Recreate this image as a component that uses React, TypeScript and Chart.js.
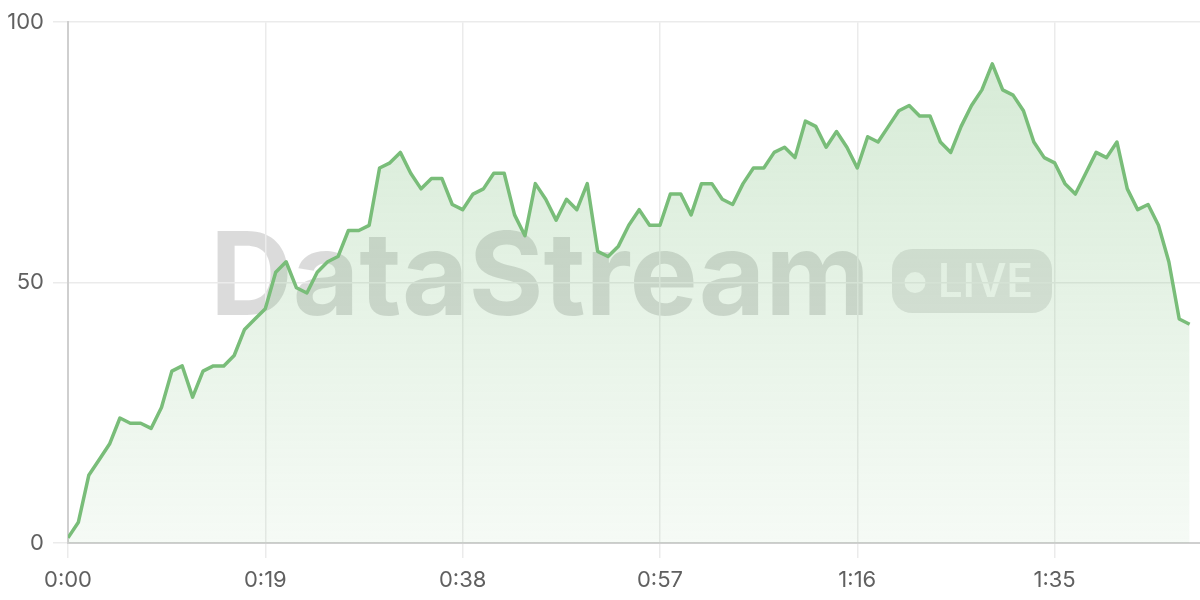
import React, { useEffect, useRef } from "react";
import { Chart, registerables } from "chart.js";

Chart.register(...registerables);

const VALUES = [
  1, 4, 13, 16, 19, 24, 23, 23, 22, 26,
  33, 34, 28, 33, 34, 34, 36, 41, 43, 45,
  52, 54, 49, 48, 52, 54, 55, 60, 60, 61,
  72, 73, 75, 71, 68, 70, 70, 65, 64, 67,
  68, 71, 71, 63, 59, 69, 66, 62, 66, 64,
  69, 56, 55, 57, 61, 64, 61, 61, 67, 67,
  63, 69, 69, 66, 65, 69, 72, 72, 75, 76,
  74, 81, 80, 76, 79, 76, 72, 78, 77, 80,
  83, 84, 82, 82, 77, 75, 80, 84, 87, 92,
  87, 86, 83, 77, 74, 73, 69, 67, 71, 75,
  74, 77, 68, 64, 65, 61, 54, 43, 42,
];
const SECONDS = VALUES.map((_, i) => i);
const X_TICKS = [0, 19, 38, 57, 76, 95];
const Y_TICKS = [0, 50, 100];
const X_MAX = 109;
const WATERMARK = "DataStream";
const BADGE = "LIVE";

const fmt = (s: number) => `${Math.floor(s / 60)}:${String(s % 60).padStart(2, "0")}`;

const watermarkPlugin = {
  id: "watermark",
  beforeDraw(chart: any) {
    const { ctx, chartArea } = chart;
    if (!chartArea) return;
    const cx = (chartArea.left + chartArea.right) / 2;
    const cy = (chartArea.top + chartArea.bottom) / 2;
    ctx.save();
    ctx.font = "bold 115px Inter";
    ctx.textBaseline = "alphabetic";
    ctx.textAlign = "left";
    const tw = ctx.measureText(WATERMARK).width;
    const targetW = 660;
    ctx.fillStyle = "rgba(0,0,0,0.14)";
    ctx.save();
    ctx.translate(cx - 424, cy + 32);
    ctx.scale(targetW / tw, 1);
    ctx.fillText(WATERMARK, 0, 0);
    ctx.restore();
    ctx.fillStyle = "rgba(0,0,0,0.1)";
    ctx.beginPath();
    ctx.roundRect(cx + 258, cy - 33.5, 160, 64, 20);
    ctx.fill();
    ctx.fillStyle = "rgba(255,255,255,0.85)";
    ctx.beginPath();
    ctx.arc(cx + 281, cy, 10.5, 0, Math.PI * 2);
    ctx.fill();
    ctx.font = "600 46px Inter";
    const lw = ctx.measureText(BADGE).width;
    ctx.save();
    ctx.translate(cx + 304, cy + 14.5);
    ctx.scale(95 / lw, 1);
    ctx.fillText(BADGE, 0, 0);
    ctx.restore();
    ctx.restore();
  },
};

export default function App() {
  const ref = useRef<HTMLCanvasElement | null>(null);
  useEffect(() => {
    document.body.style.margin = "0";
    const canvas = ref.current;
    if (!canvas) return;
    const tickFont = { family: "Inter", size: 22 };
    const chart = new Chart(canvas, {
      type: "line",
      data: {
        datasets: [
          {
            data: SECONDS.map((s, i) => ({ x: s, y: VALUES[i] })),
            borderColor: "rgb(121,189,121)",
            borderWidth: 3.5,
            borderJoinStyle: "round",
            pointRadius: 0,
            tension: 0,
            fill: "origin",
            backgroundColor: (c: any) => {
              const area = c.chart.chartArea;
              if (!area) return "rgba(121,189,121,0.15)";
              const g = c.chart.ctx.createLinearGradient(0, area.top, 0, area.bottom);
              g.addColorStop(0, "rgba(121,189,121,0.32)");
              g.addColorStop(1, "rgba(121,189,121,0.07)");
              return g;
            },
          },
        ],
      },
      options: {
        animation: false,
        responsive: true,
        maintainAspectRatio: false,
        layout: { padding: { top: 20, right: 0, left: 0, bottom: 0 } },
        plugins: { legend: { display: false }, tooltip: { enabled: false } },
        scales: {
          x: {
            type: "linear",
            min: 0,
            max: X_MAX,
            afterBuildTicks: (s: any) => {
              s.ticks = X_TICKS.map((v) => ({ value: v }));
            },
            afterFit: (s: any) => {
              s.height = 57;
            },
            ticks: {
              callback: (v: any) => fmt(Number(v)),
              color: "#606060",
              font: tickFont,
              padding: 9,
              maxRotation: 0,
              autoSkip: false,
            },
            grid: { color: "#ebebeb", lineWidth: 1.5, tickLength: 15 },
            border: { color: "#cfcfcf", width: 2 },
          },
          y: {
            min: 0,
            max: 100,
            afterBuildTicks: (s: any) => {
              s.ticks = Y_TICKS.map((v) => ({ value: v }));
            },
            afterFit: (s: any) => {
              s.width = 68;
            },
            ticks: { color: "#606060", font: tickFont, padding: 9 },
            grid: { color: "#ebebeb", lineWidth: 1.5, tickLength: 15 },
            border: { color: "#cfcfcf", width: 2 },
          },
        },
      },
      plugins: [watermarkPlugin],
    });
    return () => chart.destroy();
  }, []);
  return (
    <div style={{ width: 1200, height: 600, position: "relative" }}>
      <canvas ref={ref} />
    </div>
  );
}
